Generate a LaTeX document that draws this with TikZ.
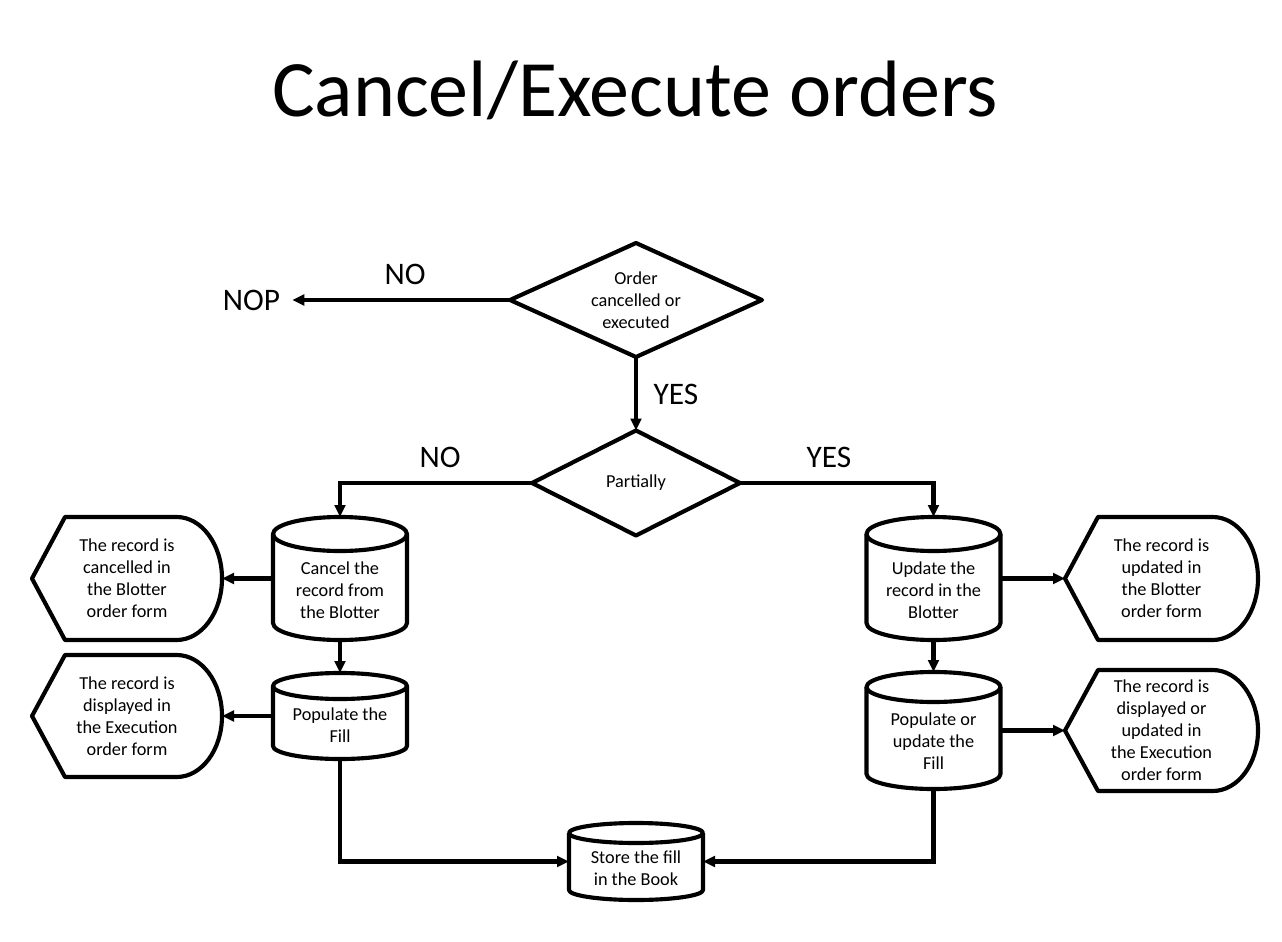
\documentclass[tikz,border=0pt]{standalone}
\usepackage{fontspec}
\setmainfont{Carlito}
\usetikzlibrary{shapes.geometric,arrows.meta}
\tikzset{
  shp/.style={draw, line width=3.1pt, line join=round},
  con/.style={line width=3.1pt, -{Triangle[length=9pt,width=8pt]}},
  txt/.style={align=center, font=\fontsize{13.7}{16.5}\selectfont, inner sep=0pt},
  lbl/.style={font=\fontsize{23.5}{28}\selectfont, inner sep=0pt},
  cylbox/.style={rectangle, minimum width=100.5pt, inner sep=0pt, outer sep=0pt},
  dispbox/.style={rectangle, inner sep=0pt, outer sep=0pt, align=center, font=\fontsize{13.7}{16.5}\selectfont},
  decision/.style={shp, diamond, inner sep=0pt, outer sep=0pt, align=center, font=\fontsize{13.7}{16.5}\selectfont}
}
% #1 name, #2 cx, #3 top, #4 bottom, #5 ry (px), #6 text y, #7 text
\newcommand\dbcyl[7]{%
  \node[cylbox, minimum height={(#4-#3)*0.75pt}] (#1) at (#2,{(#3+#4)/2}) {};
  \draw[shp] ({#2-67},{#3+#5}) -- ({#2-67},{#4-#5})
     arc[start angle=180, end angle=360, x radius=50.25pt, y radius={#5*0.75pt}]
     -- ({#2+67},{#3+#5});
  \draw[shp] ({#2},{#3+#5}) ellipse[x radius=50.25pt, y radius={#5*0.75pt}];
  \node[txt] (#1t) at (#2,#6) {#7};
}
% #1 name, #2 cx, #3 top, #4 bottom, #5 width (px), #6 text
\newcommand\dispshape[6]{%
  \node[dispbox, minimum width={#5*0.75pt}, minimum height={(#4-#3)*0.75pt}] (#1) at (#2,{(#3+#4)/2}) {#6};
  \draw[shp] (#1.west) -- ([xshift=24.75pt]#1.north west) -- ([xshift=-34pt]#1.north east)
     arc[start angle=90, end angle=-90, x radius=34pt, y radius={(#4-#3)*0.375pt}]
     -- ([xshift=24.75pt]#1.south west) -- cycle;
}
\begin{document}
\begin{tikzpicture}[x=0.75pt,y=-0.75pt]
\useasboundingbox[fill=white] (0,0) rectangle (1282,942);

\node[anchor=base, inner sep=0pt, font=\fontsize{60}{72}\selectfont] (title) at (635,117) {Cancel/Execute orders};

\node[decision, aspect=2.2, minimum width=189pt, minimum height=85.5pt] (d1) at (636,300) {Order\\cancelled or\\executed};
\node[decision, aspect=2, minimum width=156pt, minimum height=78.75pt] (d2) at (636,483) {Partially};

\node[lbl, inner xsep=9pt] (nop) at (251.5,300) {NOP};
\node[lbl] (no1) at (405,274) {NO};
\node[lbl] (yes1) at (676,394) {YES};
\node[lbl] (no2) at (440,457) {NO};
\node[lbl] (yes2) at (829,457) {YES};

\dbcyl{c1}{340}{517}{640}{17}{590}{Cancel the\\record from\\the Blotter}
\dbcyl{c2}{340}{673}{759}{13}{725}{Populate the\\Fill}
\dbcyl{c3}{933.5}{517}{640}{17}{590}{Update the\\record in the\\Blotter}
\dbcyl{c4}{933.5}{672}{789}{15}{741}{Populate or\\update the\\Fill}
\dbcyl{cb}{636}{823}{900}{10}{868}{Store the fill\\in the Book}

\dispshape{s1}{127}{517}{640}{190}{The record is\\cancelled in\\the Blotter\\order form}
\dispshape{s2}{127}{655}{777}{190}{The record is\\displayed in\\the Execution\\order form}
\dispshape{s3}{1161.5}{517}{640}{193}{The record is\\updated in\\the Blotter\\order form}
\dispshape{s4}{1161.5}{670}{791}{193}{The record is\\displayed or\\updated in\\the Execution\\order form}

\draw[con] (d1.west) -- (nop.east);
\draw[con] (d1.south) -- (d2.north);
\draw[con] (d2.west) -| (c1.north);
\draw[con] (d2.east) -| (c3.north);
\draw[con] (c1.south) -- (c2.north);
\draw[con] (c3.south) -- (c4.north);
\draw[con] (c1.west) -- (s1.east);
\draw[con] (c2.west) -- (s2.east);
\draw[con] (c3.east) -- (s3.west);
\draw[con] (c4.east) -- (s4.west);
\draw[con] (c2.south) |- (cb.west);
\draw[con] (c4.south) |- (cb.east);
\end{tikzpicture}
\end{document}
